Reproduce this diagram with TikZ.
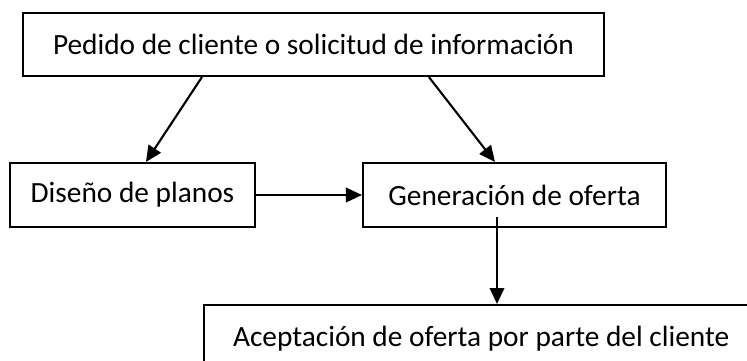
\documentclass[tikz,border=0pt]{standalone}
\usepackage{fontspec}
\setmainfont{Carlito}
\usetikzlibrary{positioning}
\usetikzlibrary{arrows.meta}

\begin{document}
\begin{tikzpicture}[x=0.02cm, y=-0.02cm,
    paso/.style={draw, line width=1.2pt, inner sep=0pt, font=\fontsize{16.7}{20}\selectfont},
    flecha/.style={-{Triangle[length=0.32cm, width=0.29cm]}, line width=1.2pt}]
    \useasboundingbox (0,0) rectangle (747,360);
    \clip (0,0) rectangle (747,360);

    % Boxes
    \node[paso, minimum width=11.62cm, minimum height=1.26cm] (pedido) at (313.5,44.5) {Pedido de cliente o solicitud de información};
    \node[paso, minimum width=4.9cm, minimum height=1.28cm] (diseno) at (132.5,195) {Diseño de planos};
    \node[paso, minimum width=6.06cm, minimum height=1.28cm] (oferta) at (514.5,195) {Generación de oferta};
    \node[paso, anchor=north west, minimum height=1.34cm, text width=10.6cm, align=flush left, inner xsep=0.58cm] (acepta) at (203,304) {Aceptación de oferta por parte del cliente};

    % Arrows
    \draw[flecha] ([xshift=3.6cm]pedido.south west) -- ([xshift=2.74cm]diseno.north west);
    \draw[flecha] ([xshift=8.14cm]pedido.south west) -- ([xshift=2.66cm]oferta.north west);
    \draw[flecha] (diseno.east) -- (diseno.east -| oferta.west);
    \coordinate (salida) at ([xshift=-0.35cm, yshift=0.22cm]oferta.south);
    \draw[flecha] (salida) -- (salida |- acepta.north);
\end{tikzpicture}
\end{document}
